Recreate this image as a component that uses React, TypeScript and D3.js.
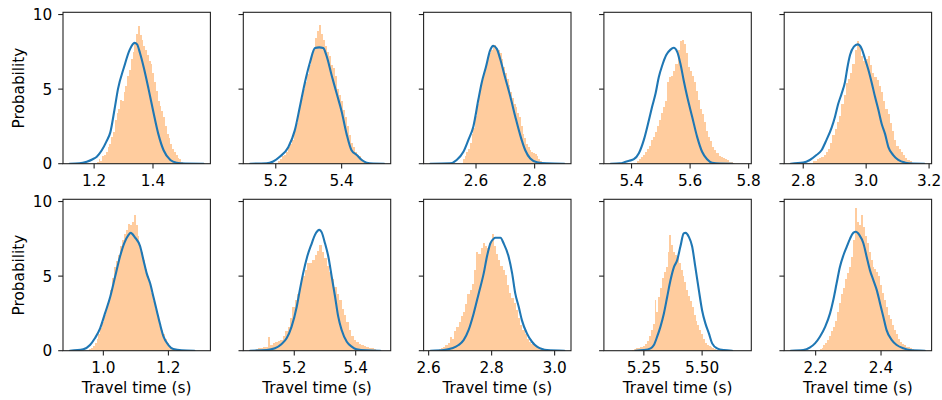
import React from "react";
import * as d3 from "d3";

const WIDTH = 942;
const HEIGHT = 400;

// Axis limits per panel, row-major (top row first)
const xLimits: [number, number][] = [
  [1.0943, 1.595], [5.1014, 5.549], [2.4212, 2.924], [5.3056, 5.809], [2.7395, 3.208],
  [0.876, 1.329], [5.034, 5.514], [2.584, 3.052], [5.0786, 5.711], [2.1038, 2.5547],
];
const xTickValues: number[][] = [
  [1.2, 1.4], [5.2, 5.4], [2.6, 2.8], [5.4, 5.6, 5.8], [2.8, 3.0, 3.2],
  [1.0, 1.2], [5.2, 5.4], [2.6, 2.8, 3.0], [5.25, 5.5], [2.2, 2.4],
];
const xTickLabels: string[][] = [
  ["1.2", "1.4"], ["5.2", "5.4"], ["2.6", "2.8"], ["5.4", "5.6", "5.8"], ["2.8", "3.0", "3.2"],
  ["1.0", "1.2"], ["5.2", "5.4"], ["2.6", "2.8", "3.0"], ["5.25", "5.50"], ["2.2", "2.4"],
];
const yTickValues = [0, 5, 10];
const yTickLabels = ["0", "5", "10"];
const yMax = 10.15;

// Histogram bins: left edge of first bin, bin width, and density of each bin
const histStart = [1.209, 5.206, 2.555, 5.41, 2.83, 0.955, 5.074, 2.625, 5.2, 2.212];
const histStep = [0.0061, 0.006, 0.006, 0.007, 0.007, 0.006, 0.008, 0.007, 0.008, 0.006];

const hist1 = [0.1, 0.3, 0.2, 0.5, 0.6, 0.8, 1.1, 1.3, 1.8, 2.1, 2.9, 3.4, 3.7, 4.3, 4.2, 4.8, 5.2, 5.9, 6.3, 7.0, 7.5, 8.1, 8.7, 9.2, 8.6, 8.3, 7.9, 7.6, 7.3, 6.9, 6.7, 6.1, 5.5, 4.9, 4.2, 3.9, 3.5, 3.1, 2.5, 2.0, 1.7, 1.3, 1.0, 0.8, 0.6, 0.4, 0.3, 0.1];
const hist2 = [0.2, 0.3, 0.5, 0.6, 0.8, 1.1, 1.3, 1.6, 2.2, 2.7, 3.2, 3.9, 4.4, 5.0, 5.5, 6.0, 6.6, 7.2, 7.7, 8.4, 8.9, 9.3, 8.7, 8.3, 7.9, 7.5, 7.2, 6.6, 6.4, 5.9, 5.0, 4.6, 4.2, 3.6, 3.1, 2.5, 1.9, 1.4, 1.1, 0.8, 0.6, 0.5, 0.3, 0.2];
const hist3 = [0.3, 0.5, 0.8, 1.0, 1.4, 2.0, 2.4, 3.2, 4.0, 4.8, 5.3, 5.8, 6.3, 6.7, 7.1, 7.4, 7.6, 7.8, 7.95, 7.7, 7.6, 7.4, 7.0, 6.5, 6.1, 5.7, 5.3, 4.8, 4.4, 4.0, 3.8, 3.4, 3.1, 2.5, 2.0, 1.7, 1.3, 1.1, 0.9, 0.8, 0.7, 0.65, 0.5, 0.3, 0.2];
const hist4 = [0.07, 0.15, 0.3, 0.45, 0.6, 0.8, 1.0, 1.2, 1.6, 1.8, 2.1, 2.5, 2.9, 3.4, 3.8, 4.2, 5.5, 5.8, 5.9, 6.2, 6.7, 7.6, 8.2, 8.3, 8.0, 7.4, 6.5, 6.2, 5.9, 5.5, 4.9, 4.3, 3.7, 3.3, 2.8, 2.2, 1.8, 1.5, 1.1, 0.9, 0.7, 0.5, 0.45, 0.35, 0.3, 0.25, 0.12, 0.1, 0.06];
const hist5 = [0.15, 0.2, 0.3, 0.35, 0.45, 0.6, 0.8, 1.0, 1.4, 1.9, 2.3, 2.8, 3.2, 4.0, 4.6, 5.4, 5.7, 6.1, 6.7, 7.6, 8.2, 7.8, 7.2, 6.9, 7.0, 7.2, 6.6, 6.1, 5.8, 5.6, 5.2, 4.8, 4.2, 3.7, 3.3, 2.7, 2.2, 1.6, 1.2, 1.0, 0.8, 0.55, 0.4, 0.25, 0.15, 0.08];
const hist6 = [0.1, 0.2, 0.3, 0.5, 0.8, 1.1, 1.5, 1.9, 2.4, 2.9, 3.4, 4.1, 4.9, 5.6, 6.0, 6.4, 7.0, 7.4, 7.8, 8.1, 8.5, 8.4, 8.6, 9.1, 8.4, 7.7, 7.1, 6.6, 6.1, 5.5, 5.0, 4.5, 3.9, 3.3, 2.8, 2.3, 1.8, 1.4, 1.1, 0.8, 0.5, 0.3, 0.2, 0.1];
const hist7 = [0.12, 0.15, 0.2, 0.22, 0.25, 0.9, 0.4, 0.5, 0.6, 0.65, 0.75, 1.0, 1.3, 1.6, 2.2, 2.9, 3.4, 3.8, 4.5, 5.0, 5.4, 5.85, 5.9, 6.1, 6.4, 6.7, 7.1, 6.6, 6.2, 5.7, 5.3, 4.8, 4.3, 3.8, 3.4, 2.8, 2.4, 1.9, 1.4, 1.0, 0.7, 0.55, 0.45, 0.35, 0.3, 0.25, 0.18, 0.15, 0.1, 0.08];
const hist8 = [0.08, 0.12, 0.2, 0.27, 0.35, 0.5, 0.9, 0.8, 1.3, 1.6, 1.9, 2.3, 2.6, 3.1, 3.8, 4.1, 4.5, 5.4, 6.6, 6.5, 6.9, 7.2, 7.0, 6.9, 7.2, 7.8, 7.0, 6.5, 6.1, 5.7, 5.4, 5.1, 4.4, 3.9, 3.5, 3.2, 2.7, 2.2, 1.7, 1.4, 1.1, 0.8, 0.6, 0.45, 0.35, 0.25, 0.18, 0.1, 0.07];
const hist9 = [0.08, 0.1, 0.15, 0.2, 0.22, 0.25, 0.3, 0.45, 0.65, 1.0, 1.4, 1.8, 3.4, 2.6, 3.6, 4.2, 4.9, 5.3, 5.6, 6.6, 7.75, 7.1, 6.6, 6.4, 6.2, 5.9, 5.4, 5.0, 4.6, 4.1, 3.7, 3.3, 2.9, 2.4, 2.0, 1.7, 1.4, 1.1, 0.8, 0.5, 0.4, 0.33, 0.25, 0.18, 0.1, 0.06];
const hist10 = [0.12, 0.2, 0.35, 0.5, 0.7, 1.0, 1.3, 1.6, 2.0, 2.6, 3.2, 3.8, 4.2, 4.8, 5.2, 5.6, 6.3, 7.4, 9.6, 8.6, 8.4, 9.1, 8.3, 7.7, 7.2, 6.6, 6.1, 5.6, 5.5, 5.3, 5.0, 4.4, 3.9, 3.4, 2.9, 2.4, 2.1, 1.7, 1.4, 1.1, 0.8, 0.6, 0.45, 0.35, 0.28, 0.22, 0.18, 0.12, 0.08, 0.05];

// Kernel density estimates: [travel time, density]
const kde1: [number, number][] = [[1.117, 0], [1.15, 0.02], [1.175, 0.13], [1.195, 0.3], [1.209, 0.47], [1.226, 0.9], [1.242, 1.5], [1.255, 2.1], [1.269, 3.6], [1.281, 5.0], [1.302, 6.5], [1.32, 7.6], [1.3375, 8.1], [1.346, 8.0], [1.356, 7.4], [1.368, 6.5], [1.385, 5.0], [1.402, 3.4], [1.418, 2.0], [1.436, 0.9], [1.459, 0.25], [1.48, 0.07], [1.51, 0.01], [1.572, 0]];
const kde2: [number, number][] = [[5.122, 0], [5.172, 0.02], [5.192, 0.15], [5.212, 0.47], [5.238, 1.1], [5.258, 2.25], [5.273, 3.8], [5.288, 5.4], [5.304, 6.8], [5.319, 7.75], [5.332, 7.8], [5.344, 7.75], [5.354, 7.25], [5.37, 5.9], [5.385, 4.7], [5.4, 3.5], [5.415, 2.0], [5.43, 0.9], [5.446, 0.58], [5.461, 0.25], [5.476, 0.07], [5.496, 0.01], [5.529, 0]];
const kde3: [number, number][] = [[2.444, 0], [2.511, 0.02], [2.534, 0.25], [2.557, 0.8], [2.574, 1.6], [2.591, 2.5], [2.608, 4.3], [2.619, 5.4], [2.634, 6.5], [2.648, 7.6], [2.659, 7.9], [2.671, 7.7], [2.682, 7.05], [2.699, 5.8], [2.717, 4.5], [2.734, 3.15], [2.751, 1.9], [2.768, 0.9], [2.785, 0.35], [2.808, 0.1], [2.842, 0.02], [2.901, 0]];
const kde4: [number, number][] = [[5.329, 0], [5.36, 0.02], [5.38, 0.13], [5.392, 0.2], [5.408, 0.3], [5.425, 0.7], [5.442, 1.6], [5.459, 2.9], [5.47, 3.8], [5.482, 4.7], [5.493, 5.8], [5.505, 6.6], [5.519, 7.3], [5.533, 7.65], [5.544, 7.77], [5.556, 7.5], [5.567, 6.7], [5.578, 5.6], [5.59, 4.5], [5.607, 3.15], [5.624, 1.8], [5.641, 0.8], [5.658, 0.3], [5.675, 0.07], [5.703, 0.01], [5.745, 0]];
const kde5: [number, number][] = [[2.76, 0], [2.8, 0.07], [2.821, 0.25], [2.842, 0.58], [2.858, 0.9], [2.874, 1.6], [2.89, 2.4], [2.901, 3.15], [2.911, 4.0], [2.922, 4.7], [2.933, 5.5], [2.94, 6.4], [2.949, 7.3], [2.961, 7.85], [2.973, 8.0], [2.986, 7.7], [2.996, 7.05], [3.007, 6.3], [3.018, 5.4], [3.028, 4.5], [3.039, 3.6], [3.049, 2.7], [3.06, 2.0], [3.071, 1.1], [3.086, 0.58], [3.102, 0.25], [3.124, 0.07], [3.15, 0.01], [3.185, 0]];
const kde6: [number, number][] = [[0.897, 0], [0.938, 0.09], [0.959, 0.38], [0.974, 0.83], [0.99, 1.5], [1.005, 2.5], [1.021, 3.6], [1.036, 4.95], [1.051, 6.3], [1.064, 7.2], [1.077, 7.75], [1.084, 7.9], [1.097, 7.6], [1.113, 7.0], [1.123, 6.1], [1.133, 5.2], [1.144, 4.5], [1.154, 3.6], [1.164, 2.7], [1.174, 1.8], [1.185, 0.94], [1.2, 0.38], [1.215, 0.11], [1.241, 0.02], [1.28, 0]];
const kde7: [number, number][] = [[5.056, 0], [5.11, 0.04], [5.137, 0.16], [5.159, 0.45], [5.175, 0.83], [5.191, 1.6], [5.208, 2.95], [5.218, 4.06], [5.229, 5.2], [5.242, 6.3], [5.257, 7.2], [5.267, 7.75], [5.282, 8.1], [5.289, 7.95], [5.3, 7.2], [5.311, 6.3], [5.322, 4.95], [5.333, 3.6], [5.343, 2.3], [5.354, 1.4], [5.371, 0.6], [5.387, 0.27], [5.403, 0.09], [5.436, 0.02], [5.48, 0]];
const kde8: [number, number][] = [[2.606, 0], [2.648, 0.04], [2.674, 0.16], [2.695, 0.38], [2.711, 0.71], [2.727, 1.4], [2.743, 2.5], [2.759, 3.84], [2.775, 5.2], [2.785, 6.3], [2.796, 7.2], [2.806, 7.5], [2.812, 7.57], [2.828, 7.57], [2.838, 7.2], [2.854, 6.3], [2.865, 5.2], [2.875, 3.84], [2.886, 2.95], [2.896, 2.05], [2.912, 1.16], [2.928, 0.6], [2.944, 0.27], [2.96, 0.11], [2.976, 0.04], [3.031, 0]];
const kde9: [number, number][] = [[5.214, 0], [5.25, 0.04], [5.279, 0.16], [5.293, 0.38], [5.307, 0.94], [5.321, 1.6], [5.336, 2.5], [5.35, 3.6], [5.364, 4.7], [5.379, 5.6], [5.393, 6.07], [5.407, 7.0], [5.421, 7.86], [5.429, 7.9], [5.443, 7.63], [5.457, 7.0], [5.471, 5.6], [5.486, 4.06], [5.5, 2.7], [5.514, 1.83], [5.529, 1.16], [5.543, 0.49], [5.564, 0.16], [5.593, 0.04], [5.629, 0]];
const kde10: [number, number][] = [[2.124, 0], [2.162, 0.04], [2.183, 0.22], [2.198, 0.49], [2.213, 0.94], [2.229, 1.6], [2.244, 2.5], [2.254, 3.4], [2.264, 4.5], [2.274, 5.6], [2.285, 6.4], [2.295, 6.96], [2.305, 7.5], [2.315, 7.9], [2.323, 7.97], [2.334, 7.75], [2.346, 7.2], [2.356, 6.3], [2.366, 5.4], [2.377, 4.7], [2.387, 4.06], [2.397, 3.17], [2.407, 2.28], [2.417, 1.38], [2.433, 0.71], [2.448, 0.38], [2.468, 0.16], [2.489, 0.04], [2.534, 0]];

const histograms = [hist1, hist2, hist3, hist4, hist5, hist6, hist7, hist8, hist9, hist10];
const kdes = [kde1, kde2, kde3, kde4, kde5, kde6, kde7, kde8, kde9, kde10];

const yLabel = "Probability";
const xLabel = "Travel time (s)";

// Layout of the 2 x 5 grid
const COLS = 5;
const PANEL_LEFT = 63;
const COL_STEP = 180.3;
const PANEL_W = 147.4;
const PANEL_H = 151.4;
const ROW_TOPS = [12.3, 199.3];
const FONT = "'DejaVu Sans', sans-serif";
const FONT_SIZE = 15.3;
const TICK_LEN = 4.8;
const AXIS_COLOR = "#222";
const BLUE = "#1f77b4";
const ORANGE = "#ff7f0e";

function Panel({ index }: { index: number }) {
  const row = Math.floor(index / COLS);
  const col = index % COLS;
  const left = PANEL_LEFT + col * COL_STEP;
  const top = ROW_TOPS[row];

  const x = d3.scaleLinear().domain(xLimits[index]).range([0, PANEL_W]);
  const y = d3.scaleLinear().domain([0, yMax]).range([PANEL_H, 0]);

  const start = histStart[index];
  const step = histStep[index];
  const bins = histograms[index].map((v, k) => ({ x0: start + k * step, x1: start + (k + 1) * step, v }));

  const line = d3
    .line<[number, number]>()
    .x((d) => x(d[0]))
    .y((d) => y(d[1]))
    .curve(d3.curveMonotoneX);

  const clipId = `clip-${index}`;

  return (
    <g transform={`translate(${left},${top})`}>
      <defs>
        <clipPath id={clipId}>
          <rect x={0} y={0} width={PANEL_W} height={PANEL_H} />
        </clipPath>
      </defs>
      <g clipPath={`url(#${clipId})`}>
        <g opacity={0.4}>
          {bins.map((b, k) => (
            <rect
              key={k}
              x={x(b.x0)}
              y={y(b.v)}
              width={x(b.x1) - x(b.x0)}
              height={y(0) - y(b.v)}
              fill={ORANGE}
              shapeRendering="crispEdges"
            />
          ))}
        </g>
        <path d={line(kdes[index]) || ""} fill="none" stroke={BLUE} strokeWidth={2.1} strokeLinejoin="round" strokeLinecap="round" />
      </g>

      {/* y ticks */}
      {yTickValues.map((t, k) => (
        <g key={`yt${k}`} transform={`translate(0,${y(t)})`}>
          <line x1={-TICK_LEN} x2={0} y1={0} y2={0} stroke={AXIS_COLOR} strokeWidth={1.1} />
          {col === 0 && (
            <text x={-TICK_LEN - 6} y={0} dy="0.36em" textAnchor="end" fontFamily={FONT} fontSize={FONT_SIZE} fill="#000">
              {yTickLabels[k]}
            </text>
          )}
        </g>
      ))}

      {/* x ticks */}
      {xTickValues[index].map((t, k) => (
        <g key={`xt${k}`} transform={`translate(${x(t)},${PANEL_H})`}>
          <line x1={0} x2={0} y1={0} y2={TICK_LEN} stroke={AXIS_COLOR} strokeWidth={1.1} />
          <text x={0} y={22} textAnchor="middle" fontFamily={FONT} fontSize={FONT_SIZE} fill="#000">
            {xTickLabels[index][k]}
          </text>
        </g>
      ))}

      <rect x={0} y={0} width={PANEL_W} height={PANEL_H} fill="none" stroke={AXIS_COLOR} strokeWidth={1.1} />

      {col === 0 && (
        <text
          transform={`translate(${24 - left},${PANEL_H / 2}) rotate(-90)`}
          textAnchor="middle"
          fontFamily={FONT}
          fontSize={FONT_SIZE}
          fill="#000"
        >
          {yLabel}
        </text>
      )}
      {row === 1 && (
        <text x={PANEL_W / 2} y={393 - top} textAnchor="middle" fontFamily={FONT} fontSize={FONT_SIZE} fill="#000">
          {xLabel}
        </text>
      )}
    </g>
  );
}

export default function App() {
  return (
    <svg width={WIDTH} height={HEIGHT} viewBox={`0 0 ${WIDTH} ${HEIGHT}`} style={{ display: "block", position: "absolute", left: 0, top: 0, background: "#fff" }}>
      <rect width={WIDTH} height={HEIGHT} fill="#fff" />
      {d3.range(xLimits.length).map((i) => (
        <Panel key={i} index={i} />
      ))}
    </svg>
  );
}
